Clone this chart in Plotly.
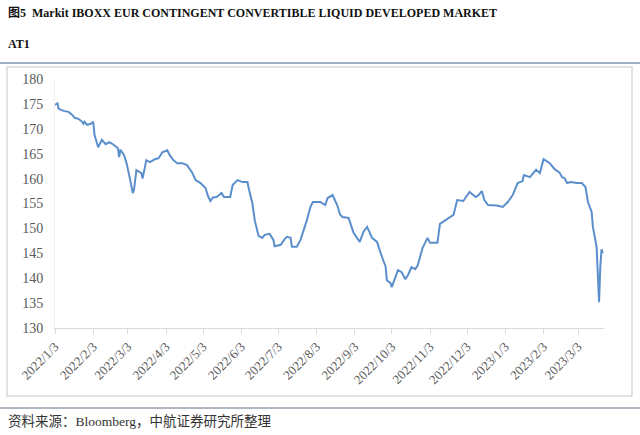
import plotly.graph_objects as go

# Markit iBoxx EUR CoCo Liquid Developed Market AT1 index
dates = [
    "2022-01-03", "2022-01-05", "2022-01-06", "2022-01-10", "2022-01-14", "2022-01-17",
    "2022-01-19", "2022-01-22", "2022-01-25", "2022-01-26", "2022-01-27", "2022-01-29",
    "2022-02-01", "2022-02-03", "2022-02-04", "2022-02-07", "2022-02-10", "2022-02-13",
    "2022-02-16", "2022-02-19", "2022-02-22", "2022-02-23", "2022-02-24", "2022-02-25",
    "2022-02-28", "2022-03-02", "2022-03-05", "2022-03-07", "2022-03-08", "2022-03-10",
    "2022-03-14", "2022-03-15", "2022-03-18", "2022-03-21", "2022-03-25", "2022-03-28",
    "2022-03-31", "2022-04-04", "2022-04-06", "2022-04-09", "2022-04-12", "2022-04-16",
    "2022-04-20", "2022-04-24", "2022-04-27", "2022-05-01", "2022-05-05", "2022-05-07",
    "2022-05-09", "2022-05-11", "2022-05-14", "2022-05-17", "2022-05-18", "2022-05-20",
    "2022-05-25", "2022-05-27", "2022-05-31", "2022-06-04", "2022-06-08", "2022-06-09",
    "2022-06-12", "2022-06-14", "2022-06-17", "2022-06-20", "2022-06-22", "2022-06-26",
    "2022-06-29", "2022-06-30", "2022-07-05", "2022-07-08", "2022-07-10", "2022-07-13",
    "2022-07-14", "2022-07-18", "2022-07-21", "2022-07-24", "2022-07-26", "2022-07-29",
    "2022-07-31", "2022-08-06", "2022-08-10", "2022-08-12", "2022-08-16", "2022-08-20",
    "2022-08-22", "2022-08-24", "2022-08-29", "2022-09-02", "2022-09-05", "2022-09-07",
    "2022-09-10", "2022-09-13", "2022-09-17", "2022-09-21", "2022-09-25", "2022-09-28",
    "2022-09-29", "2022-10-02", "2022-10-03", "2022-10-05", "2022-10-08", "2022-10-11",
    "2022-10-14", "2022-10-16", "2022-10-19", "2022-10-22", "2022-10-24", "2022-10-28",
    "2022-11-01", "2022-11-03", "2022-11-09", "2022-11-11", "2022-11-17", "2022-11-22",
    "2022-11-25", "2022-11-30", "2022-12-05", "2022-12-10", "2022-12-12", "2022-12-15",
    "2022-12-17", "2022-12-20", "2022-12-27", "2023-01-01", "2023-01-05", "2023-01-09",
    "2023-01-13", "2023-01-17", "2023-01-18", "2023-01-23", "2023-01-28", "2023-01-31",
    "2023-02-03", "2023-02-08", "2023-02-12", "2023-02-16", "2023-02-18", "2023-02-20",
    "2023-02-22", "2023-02-25", "2023-03-02", "2023-03-06", "2023-03-09", "2023-03-11",
    "2023-03-14", "2023-03-15", "2023-03-18", "2023-03-20", "2023-03-21", "2023-03-22",
    "2023-03-23",
]
values = [
    174.8, 175.1, 174.0, 173.6, 173.4, 172.8,
    172.2, 172.0, 171.4, 171.0, 171.4, 170.8,
    171.0, 171.4, 168.8, 166.3, 167.8, 166.9,
    167.3, 166.9, 166.3, 166.1, 164.3, 165.8,
    164.7, 163.1, 159.7, 157.1, 157.7, 161.7,
    161.1, 160.0, 163.7, 163.3, 163.9, 164.1,
    165.3, 165.7, 164.7, 163.7, 163.1, 163.1,
    162.7, 161.3, 159.7, 159.1, 158.1, 156.5,
    155.5, 156.2, 156.3, 156.8, 157.1, 156.3,
    156.3, 158.7, 159.7, 159.3, 159.3, 158.1,
    155.0, 151.5, 148.5, 148.1, 148.7, 148.9,
    147.7, 146.4, 146.7, 147.8, 148.3, 148.1,
    146.3, 146.3, 147.7, 150.0, 151.5, 154.3,
    155.3, 155.3, 154.7, 156.1, 156.7, 154.5,
    152.8, 152.3, 152.1, 149.1, 148.0, 147.3,
    149.3, 150.3, 148.1, 147.3, 144.3, 142.3,
    139.6, 139.0, 138.2, 139.6, 141.6, 141.2,
    139.8, 140.6, 142.2, 141.8, 142.6, 146.1,
    148.1, 147.1, 147.1, 150.9, 151.9, 152.7,
    155.7, 155.5, 157.3, 156.3, 156.6, 157.5,
    155.7, 154.7, 154.6, 154.3, 155.3, 156.7,
    159.1, 159.5, 160.7, 160.3, 161.8, 161.1,
    163.9, 163.1, 161.9, 161.2, 160.3, 160.1,
    159.1, 159.3, 159.1, 159.1, 158.3, 155.3,
    153.3, 150.3, 146.3, 135.2, 142.3, 145.8,
    145.0,
]

tick_dates = [
    "2022-01-03", "2022-02-03", "2022-03-03", "2022-04-03", "2022-05-03",
    "2022-06-03", "2022-07-03", "2022-08-03", "2022-09-03", "2022-10-03",
    "2022-11-03", "2022-12-03", "2023-01-03", "2023-02-03", "2023-03-03",
]
tick_labels = [
    "2022/1/3", "2022/2/3", "2022/3/3", "2022/4/3", "2022/5/3",
    "2022/6/3", "2022/7/3", "2022/8/3", "2022/9/3", "2022/10/3",
    "2022/11/3", "2022/12/3", "2023/1/3", "2023/2/3", "2023/3/3",
]

title_1 = "图5  Markit IBOXX EUR CONTINGENT CONVERTIBLE LIQUID DEVELOPED MARKET"
title_2 = "AT1"
source = "资料来源：Bloomberg，中航证券研究所整理"

serif = "Liberation Serif, Noto Sans CJK SC, serif"
tick_font = dict(family=serif, size=14, color="#595959")

# pixel -> paper helpers (plot area: x 55..604, y 79..328)
L, R, T, B = 55, 604, 79, 328
def px(x):
    return (x - L) / (R - L)
def py(y):
    return (B - y) / (B - T)

fig = go.Figure()
fig.add_trace(go.Scatter(
    x=dates,
    y=values,
    mode="lines",
    line=dict(color="#5b8fcc", width=2),
    showlegend=False,
))

fig.update_layout(
    width=640,
    height=435,
    margin=dict(l=L, r=640 - R, t=T, b=435 - B, autoexpand=False),
    paper_bgcolor="white",
    plot_bgcolor="white",
    xaxis=dict(
        type="date",
        range=["2022-01-03", "2023-03-24"],
        tickvals=tick_dates,
        ticktext=tick_labels,
        tickangle=-45,
        tickfont=dict(family=serif, size=13, color="#595959"),
        ticks="outside",
        ticklen=5,
        tickcolor="#d9d9d9",
        showline=True,
        linecolor="#d9d9d9",
        linewidth=1,
        showgrid=False,
        zeroline=False,
    ),
    yaxis=dict(
        range=[130, 180],
        dtick=5,
        tickfont=tick_font,
        ticklabelstandoff=8,
        showline=True,
        linecolor="#f0f0f0",
        showgrid=False,
        zeroline=False,
        ticks="",
    ),
    shapes=[
        # chart frame
        dict(type="rect", xref="paper", yref="paper",
             x0=px(7), x1=px(632), y0=py(396), y1=py(67),
             line=dict(color="#d9d9d9", width=1.5), layer="below"),
        # header rule
        dict(type="line", xref="paper", yref="paper",
             x0=px(0), x1=px(640), y0=py(63), y1=py(63),
             line=dict(color="#9fb0c2", width=2)),
        # footer rule
        dict(type="line", xref="paper", yref="paper",
             x0=px(0), x1=px(640), y0=py(408), y1=py(408),
             line=dict(color="#5f6f85", width=1)),
    ],
    annotations=[
        dict(text="<b>" + title_1 + "</b>", xref="paper", yref="paper",
             x=px(6), y=py(13), xanchor="left", yanchor="middle", showarrow=False,
             font=dict(family=serif, size=12, color="#111111")),
        dict(text="<b>" + title_2 + "</b>", xref="paper", yref="paper",
             x=px(6), y=py(44), xanchor="left", yanchor="middle", showarrow=False,
             font=dict(family=serif, size=12, color="#111111")),
        dict(text=source, xref="paper", yref="paper",
             x=px(6), y=py(421), xanchor="left", yanchor="middle", showarrow=False,
             font=dict(family=serif, size=13.5, color="#333333")),
    ],
)

# the page body has a default 8px margin; drop it so the figure sits at the window origin
fig.write_html("out.html", config={"displayModeBar": False},
               post_script="document.body.style.margin='0px';")
